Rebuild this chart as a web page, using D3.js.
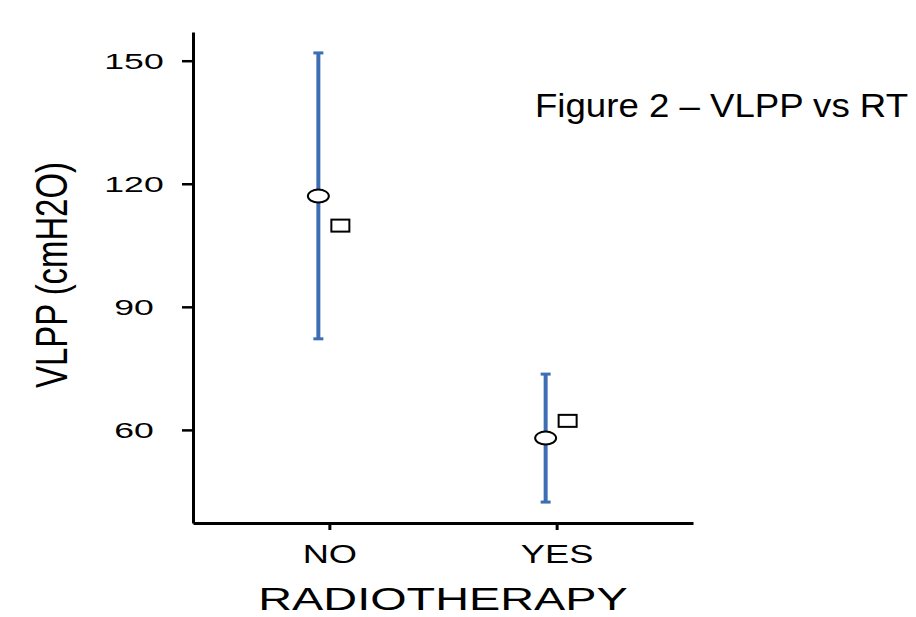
<!DOCTYPE html>
<html>
<head>
<meta charset="utf-8">
<script src="https://cdn.jsdelivr.net/npm/d3@7"></script>
<style>
  body { margin: 0; background: #fff; }
  text { font-family: "Liberation Sans", Arial, sans-serif; fill: #000; }
</style>
</head>
<body>
<div id="chart"></div>
<script>
// values
var categories = ["NO", "YES"];
var meanValues = [117.0, 58.0];      // circles
var medianValues = [109.8, 62.2];    // squares
var lowerValues = [82.2, 42.4];      // error bar bottom
var upperValues = [151.9, 73.6];     // error bar top
var yTicks = [60, 90, 120, 150];

var width = 916, height = 617;
var svg = d3.select("#chart").append("svg")
    .attr("width", width)
    .attr("height", height);

var x = d3.scalePoint().domain(categories).range([193, 693]).padding(0.6);
var y = d3.scaleLinear().domain([37.3, 157]).range([523, 32]);
var dodge = 11;
var barColor = "#3d6db3";

// stretch text horizontally like the original (image was widened)
function stretch(sel, k) {
  sel.each(function () {
    var len = this.getComputedTextLength();
    d3.select(this).attr("textLength", len * k).attr("lengthAdjust", "spacingAndGlyphs");
  });
}

// y axis
var yAxis = svg.append("g")
    .attr("transform", "translate(193,0)")
    .call(d3.axisLeft(y).tickValues(yTicks).tickSize(11).tickSizeOuter(0));
yAxis.select(".domain").attr("stroke", "#000").attr("stroke-width", 3);
yAxis.selectAll(".tick line").attr("stroke", "#000").attr("stroke-width", 2.5);
yAxis.selectAll(".tick text")
    .attr("x", -59)
    .attr("dy", "0.36em")
    .attr("text-anchor", "middle")
    .style("font-size", "22.5px")
    .style("font-family", "Liberation Sans, Arial, sans-serif")
    .call(stretch, 1.58);

// x axis
var xAxis = svg.append("g")
    .attr("transform", "translate(0,523)")
    .call(d3.axisBottom(x).tickSize(7).tickSizeOuter(0));
xAxis.select(".domain").attr("stroke", "#000").attr("stroke-width", 3);
xAxis.selectAll(".tick line").attr("stroke", "#000").attr("stroke-width", 3);
xAxis.selectAll(".tick text")
    .attr("y", 40)
    .attr("dy", 0)
    .style("font-size", "25px")
    .style("font-family", "Liberation Sans, Arial, sans-serif")
    .call(stretch, 1.45);

// error bars
var rows = categories.map(function (c, i) {
  return { cat: c, mean: meanValues[i], median: medianValues[i], lo: lowerValues[i], hi: upperValues[i] };
});

var bars = svg.append("g").selectAll("g").data(rows).enter().append("g");
bars.append("line")
    .attr("x1", function (d) { return x(d.cat) - dodge; })
    .attr("x2", function (d) { return x(d.cat) - dodge; })
    .attr("y1", function (d) { return y(d.hi); })
    .attr("y2", function (d) { return y(d.lo); })
    .attr("stroke", barColor).attr("stroke-width", 4);
["hi", "lo"].forEach(function (k) {
  bars.append("line")
      .attr("x1", function (d) { return x(d.cat) - dodge - 5; })
      .attr("x2", function (d) { return x(d.cat) - dodge + 5; })
      .attr("y1", function (d) { return y(d[k]); })
      .attr("y2", function (d) { return y(d[k]); })
      .attr("stroke", barColor).attr("stroke-width", 3);
});

// mean markers (circles, widened)
bars.append("ellipse")
    .attr("cx", function (d) { return x(d.cat) - dodge; })
    .attr("cy", function (d) { return y(d.mean); })
    .attr("rx", 10.5).attr("ry", 6.5)
    .attr("fill", "#fff").attr("stroke", "#000").attr("stroke-width", 2);

// median markers (squares)
bars.append("rect")
    .attr("x", function (d) { return x(d.cat) + dodge - 9; })
    .attr("y", function (d) { return y(d.median) - 6; })
    .attr("width", 18).attr("height", 12)
    .attr("fill", "#fff").attr("stroke", "#000").attr("stroke-width", 2);

// axis titles
svg.append("text")
    .attr("x", 443).attr("y", 610)
    .attr("text-anchor", "middle")
    .style("font-size", "31px")
    .text("RADIOTHERAPY")
    .call(stretch, 1.51);

svg.append("text")
    .attr("transform", "translate(67,275) rotate(-90)")
    .attr("text-anchor", "middle")
    .style("font-size", "45px")
    .text("VLPP (cmH2O)")
    .call(stretch, 0.73);

// figure label
svg.append("text")
    .attr("x", 535).attr("y", 117)
    .style("font-size", "33px")
    .text("Figure 2 – VLPP vs RT")
    .attr("textLength", 373)
    .attr("lengthAdjust", "spacingAndGlyphs");
</script>
</body>
</html>
